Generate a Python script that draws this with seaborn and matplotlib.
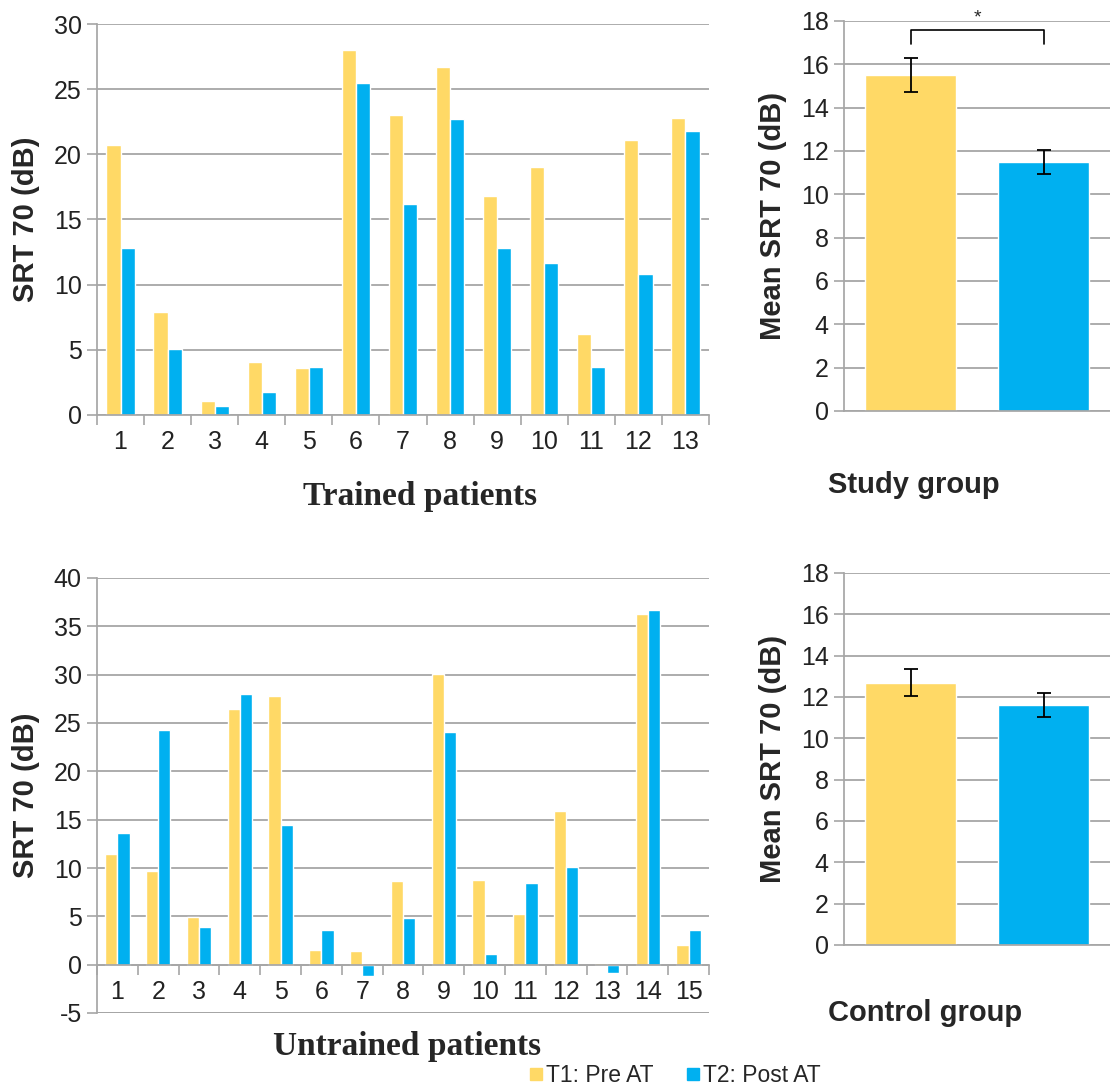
import numpy as np
import pandas as pd
import matplotlib
matplotlib.use("Agg")
import matplotlib.pyplot as plt
from matplotlib.lines import Line2D
from matplotlib.ticker import FixedLocator, MultipleLocator, NullFormatter
import seaborn as sns

# data
trained_ids = [str(i) for i in range(1, 14)]
trained_pre = [20.7, 7.9, 1.1, 4.1, 3.6, 28.0, 23.0, 26.7, 16.8, 19.0, 6.2, 21.1, 22.8]
trained_post = [12.8, 5.1, 0.7, 1.8, 3.7, 25.5, 16.2, 22.7, 12.8, 11.7, 3.7, 10.8, 21.8]

untrained_ids = [str(i) for i in range(1, 16)]
untrained_pre = [11.4, 9.7, 4.9, 26.5, 27.8, 1.5, 1.4, 8.7, 30.1, 8.8, 5.2, 15.9, 0.2, 36.3, 2.0]
untrained_post = [13.6, 24.3, 3.9, 28.0, 14.5, 3.6, -1.2, 4.8, 24.1, 1.1, 8.4, 10.1, -0.9, 36.7, 3.6]

time_labels = ["T1: Pre AT", "T2: Post AT"]
study_means = [15.5, 11.5]
study_err = [0.78, 0.55]
control_means = [12.7, 11.6]
control_err = [0.65, 0.58]

yellow = "#FFD966"
blue = "#00B0F0"
grid_col = "#A6A6A6"

sns.set_theme(style="white")
plt.rcParams["font.family"] = ["Liberation Sans", "DejaVu Sans"]
plt.rcParams["axes.unicode_minus"] = False

W, H = 1110, 1088
fig = plt.figure(figsize=(W / 100, H / 100), dpi=100)


def px_axes(x0, y0, x1, y1):
    return fig.add_axes([x0 / W, 1 - y1 / H, (x1 - x0) / W, (y1 - y0) / H])


def style_axes(ax):
    for s in ["top", "right"]:
        ax.spines[s].set_visible(False)
    ax.spines["left"].set_color(grid_col)
    ax.spines["bottom"].set_color(grid_col)
    ax.yaxis.grid(True, color=grid_col, lw=1.3)
    ax.set_axisbelow(True)
    ax.tick_params(axis="y", length=7, color=grid_col, width=1.2, labelsize=18,
                   labelcolor="#222222", left=True, pad=4)
    ax.set_xlabel("")


def patient_chart(ax, ids, pre, post, ylim, step):
    df = pd.DataFrame({
        "patient": ids * 2,
        "srt": pre + post,
        "time": [time_labels[0]] * len(ids) + [time_labels[1]] * len(ids),
    })
    sns.barplot(data=df, x="patient", y="srt", hue="time", palette=[yellow, blue],
                width=0.6, ax=ax, legend=False, saturation=1, errorbar=None)
    style_axes(ax)
    n = len(ids)
    ax.set_xlim(-0.5, n - 0.5)
    ax.set_ylim(*ylim)
    ax.yaxis.set_major_locator(MultipleLocator(step))
    ax.spines["bottom"].set_position(("data", 0))
    ax.xaxis.set_minor_locator(FixedLocator(np.arange(-0.5, n, 1.0)))
    ax.xaxis.set_minor_formatter(NullFormatter())
    ax.tick_params(axis="x", which="major", length=0, labelsize=18, labelcolor="#222222", pad=11)
    ax.tick_params(axis="x", which="minor", length=7, color=grid_col, width=1.2, bottom=True)
    ax.set_ylabel("SRT 70 (dB)", fontsize=21, fontweight="bold")
    ax.yaxis.set_label_coords(-0.093, 0.5)


def mean_chart(ax, means, errs):
    sns.barplot(x=time_labels, y=means, hue=time_labels, palette=[yellow, blue],
                width=0.68, ax=ax, legend=False, saturation=1, errorbar=None)
    ax.errorbar([0, 1], means, yerr=errs, fmt="none", ecolor="black", elinewidth=1.3,
                capsize=5, capthick=1.3)
    style_axes(ax)
    ax.set_xlim(-0.5, 1.5)
    ax.set_ylim(0, 18)
    ax.yaxis.set_major_locator(MultipleLocator(2))
    ax.set_xticks([])
    ax.set_ylabel("Mean SRT 70 (dB)", fontsize=21, fontweight="bold")
    ax.yaxis.set_label_coords(-0.214, 0.5)


ax1 = px_axes(97, 24, 709, 415)
patient_chart(ax1, trained_ids, trained_pre, trained_post, (0, 30), 5)

ax2 = px_axes(844, 21, 1110, 411)
mean_chart(ax2, study_means, study_err)
# significance bracket
ax2.plot([0, 0, 1, 1], [16.95, 17.6, 17.6, 16.95], color="black", lw=1.2, clip_on=False)
ax2.text(0.5, 17.75, "*", ha="center", va="bottom", fontsize=14, clip_on=False)

ax3 = px_axes(97, 578, 709, 1013)
patient_chart(ax3, untrained_ids, untrained_pre, untrained_post, (-5, 40), 5)
ax3.axhline(-5, color=grid_col, lw=1.3, zorder=0)

ax4 = px_axes(844, 573, 1110, 945)
mean_chart(ax4, control_means, control_err)

serif = ["Liberation Serif", "DejaVu Serif"]
fig.text(420 / W, 1 - 497 / H, "Trained patients", ha="center", va="center",
         fontsize=24, fontweight="bold", family=serif)
fig.text(407 / W, 1 - 1047 / H, "Untrained patients", ha="center", va="center",
         fontsize=24, fontweight="bold", family=serif)
fig.text(828 / W, 1 - 485 / H, "Study group", ha="left", va="center",
         fontsize=21, fontweight="bold")
fig.text(828 / W, 1 - 1013 / H, "Control group", ha="left", va="center",
         fontsize=21, fontweight="bold")

handles = [Line2D([], [], marker="s", ls="", color=c, markersize=8.5) for c in (yellow, blue)]
fig.legend(handles, time_labels, loc="center left", bbox_to_anchor=(529 / W, 1 - 1076 / H),
           ncol=2, frameon=False, fontsize=16.5, handlelength=0.6, handletextpad=0.15,
           columnspacing=1.4, borderpad=0, borderaxespad=0)

fig.savefig("out.png", dpi=100, facecolor="white")
